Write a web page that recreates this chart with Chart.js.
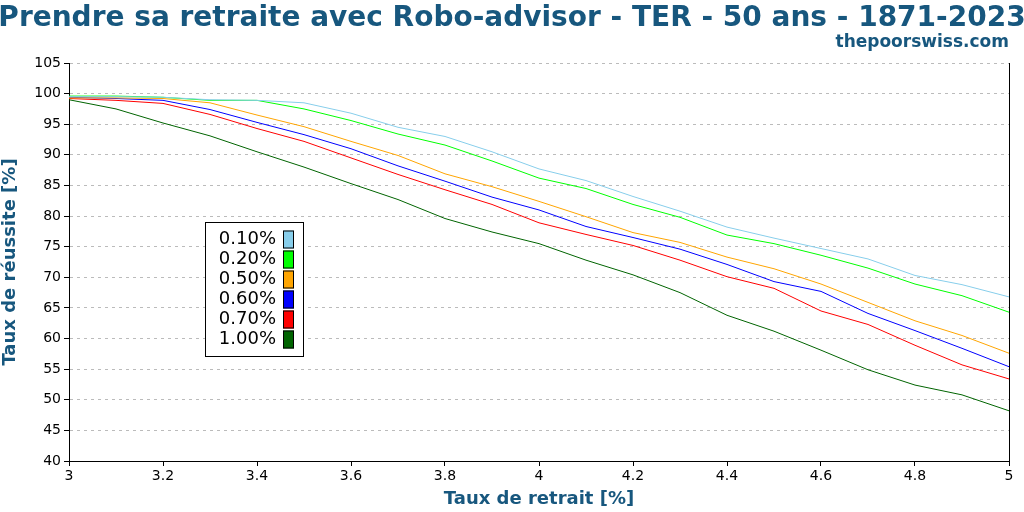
<!DOCTYPE html><html><head><meta charset="utf-8">
<script src="https://cdn.jsdelivr.net/npm/chart.js@4"></script>
<style>html,body{margin:0;padding:0;background:#fff}#c{width:1024px;height:512px}</style></head><body>
<div id="c"><canvas id="cv" width="1024" height="512"></canvas></div>
<script>
const xs=[3,3.1,3.2,3.3,3.4,3.5,3.6,3.7,3.8,3.9,4,4.1,4.2,4.3,4.4,4.5,4.6,4.7,4.8,4.9,5];
const labels=["0.10%","0.20%","0.50%","0.60%","0.70%","1.00%"];
const colors=["#87ceeb","#00ff00","#ffa500","#0000ff","#ff0000","#006400"];
const s010=[99.5,99.5,99.4,99,98.9,98.5,96.8,94.5,93,90.5,87.7,85.8,83.2,80.8,78.2,76.4,74.7,73,70.3,68.8,66.8];
const s020=[99.6,99.6,99.4,98.9,98.9,97.5,95.6,93.4,91.6,89,86.2,84.5,81.9,79.8,76.9,75.5,73.6,71.5,68.9,67,64.3];
const s050=[99.3,99.3,99.2,98.5,96.5,94.6,92.2,89.9,86.9,84.8,82.4,79.9,77.3,75.7,73.3,71.4,68.9,65.9,62.9,60.5,57.6];
const s060=[99.4,99.2,98.9,97.4,95.3,93.3,91,88.2,85.7,83.1,81,78.3,76.5,74.6,72.1,69.3,67.7,64.1,61.3,58.4,55.4];
const s070=[99.2,98.9,98.4,96.6,94.3,92.2,89.5,86.8,84.3,81.9,78.9,77,75.2,72.8,70.1,68.2,64.5,62.3,58.9,55.7,53.4];
const s100=[99,97.5,95.2,93.1,90.5,88,85.3,82.7,79.6,77.4,75.5,72.8,70.4,67.5,63.8,61.2,58.1,54.9,52.4,50.8,48.2];
const series=[s010,s020,s050,s060,s070,s100];
const title="Prendre sa retraite avec Robo-advisor - TER - 50 ans - 1871-2023";
const blue="#17577e";
const deco={id:'deco',afterDraw(c){const g=c.ctx,a=c.chartArea;g.save();
g.fillStyle=blue;g.font="bold 28px 'DejaVu Sans'";g.textAlign='center';g.textBaseline='alphabetic';g.fillText(title,512,26);
g.font="bold 17px 'DejaVu Sans'";g.textAlign='right';g.fillText("thepoorswiss.com",1009,47);
g.strokeStyle='#000';g.lineWidth=1;g.beginPath();g.moveTo(a.right+0.5,a.top);g.lineTo(a.right+0.5,a.bottom);g.stroke();
const lx=205.5,ly=222.5,lw=98,lh=134;g.fillStyle='#fff';g.fillRect(lx,ly,lw,lh);g.strokeRect(lx,ly,lw,lh);
g.font="18px 'DejaVu Sans'";g.textBaseline='middle';
labels.forEach((l,i)=>{const y=ly+17+i*20;g.fillStyle='#000';g.textAlign='right';g.fillText(l,276,y);g.fillStyle=colors[i];g.fillRect(283,y-9,11,18);g.strokeRect(283.5,y-8.5,10,17);});
g.restore();}};
new Chart(document.getElementById('cv'),{type:'line',
data:{datasets:series.map((s,i)=>({label:labels[i],data:s.map((v,j)=>({x:xs[j],y:v})),borderColor:colors[i],borderWidth:1,pointRadius:0,tension:0,fill:false}))},
options:{responsive:false,animation:false,devicePixelRatio:1,
layout:{padding:{top:63,right:15,left:0,bottom:0}},
plugins:{legend:{display:false},tooltip:{enabled:false}},
scales:{x:{type:'linear',min:3,max:5,ticks:{stepSize:0.2,color:'#000',font:{size:14,family:'DejaVu Sans'},padding:2,callback:v=>Math.round(v*10)/10},
grid:{drawOnChartArea:false,drawTicks:true,tickLength:5,color:'#000'},border:{color:'#000'},
title:{display:true,text:'Taux de retrait [%]',color:blue,font:{size:18,weight:'bold',family:'DejaVu Sans'},padding:{top:0,bottom:2}},
afterFit(s){s.height=51;}},
y:{min:40,max:105,ticks:{stepSize:5,color:'#000',font:{size:14,family:'DejaVu Sans'},padding:3},
grid:{color:'#bbb',tickColor:'#000',tickLength:5,drawTicks:true},border:{color:'#000',dash:[3,4]},
title:{display:true,text:'Taux de réussite [%]',color:blue,font:{size:18,weight:'bold',family:'DejaVu Sans'},padding:{top:0,bottom:4}},
afterFit(s){s.width=69;}}}},
plugins:[deco]});
</script></body></html>
